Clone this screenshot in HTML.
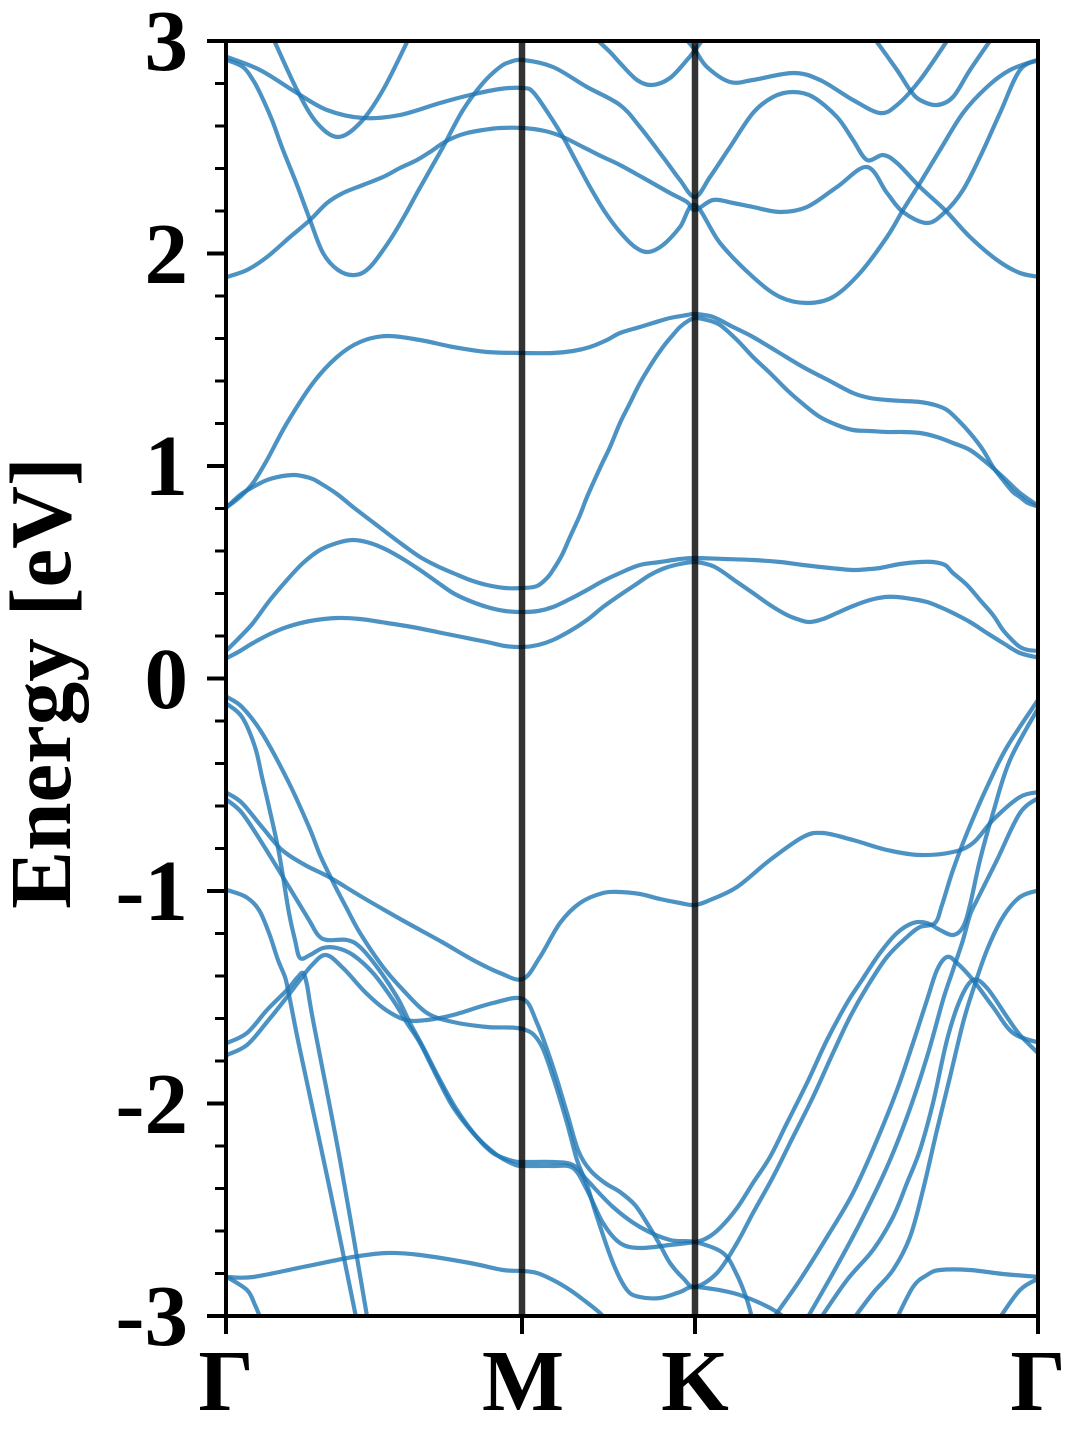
<!DOCTYPE html>
<html>
<head>
<meta charset="utf-8">
<style>
html,body{margin:0;padding:0;background:#fff;}
svg{display:block;}
text{font-family:"Liberation Serif","DejaVu Serif",serif;font-weight:bold;fill:#000;}
</style>
</head>
<body>
<svg id="chart" width="1080" height="1440" viewBox="0 0 1080 1440" xmlns="http://www.w3.org/2000/svg">
<defs>
<clipPath id="pa"><rect x="226" y="41" width="812" height="1275"/></clipPath>
</defs>
<rect width="1080" height="1440" fill="#fff"/>
<g id="bands" clip-path="url(#pa)" fill="none" stroke="#1f77b4" stroke-opacity="0.8" stroke-width="4.2" stroke-linejoin="round" stroke-linecap="round">
<polyline points="227,60 243,67 253,80 260,93 272,120 283,150 297,185 310,220 323,253 338,270 355,275 370,267 390,240 405,215 417,193 430,170 443,147 463,110 483,83 500,67 510,62 523,60 553,67 587,87 620,105 640,127 663,157 680,180 695,197 710,177 730,147 753,113 773,97 793,92 813,97 837,117 853,140 867,160 883,155 897,163 920,187 945,210 970,237 997,260 1020,273 1040,277"/>
<polyline points="227,277 247,270 267,257 290,237 310,220 327,203 343,193 363,185 383,177 400,168 417,160 430,152 443,143 455,137 467,133 483,130 500,128 523,128 545,131 563,137 583,147 603,157 620,165 647,180 670,193 687,202 695,210 713,200 733,203 753,207 780,212 807,207 837,187 867,167 887,193 903,212 927,223 945,212 963,190 980,157 1000,113 1020,70 1040,60"/>
<polyline points="227,57 260,70 297,93 327,110 363,118 400,115 440,103 470,95 500,89 523,88 533,92 548,113 563,137 577,163 590,187 605,212 620,232 635,247 648,252 663,245 680,227 695,205 720,243 753,277 780,297 807,303 833,297 860,273 887,237 903,210 920,183 940,150 963,113 987,87 1010,70 1040,59"/>
<polyline points="273,38 297,90 317,123 338,137 360,123 383,90 409,38"/>
<polyline points="595,38 610,52 620,63 637,80 652,85 670,78 687,60 695,50 704,38"/>
<polyline points="685,38 695,50 707,67 730,82 753,80 793,73 820,80 853,100 880,113 897,105 920,80 949,38"/>
<polyline points="874,38 897,70 910,90 920,100 937,105 953,97 970,70 992,38"/>
<polyline points="227,507 240,497 253,483 267,460 287,423 313,383 337,357 360,342 387,336 420,340 453,347 487,352 523,353 553,353 573,351 590,347 607,340 620,333 640,327 653,323 670,318 687,315 695,314 713,317 733,327 753,337 778,352 803,367 828,380 853,393 870,398 887,400 903,401 920,402 935,405 947,410 958,420 970,433 983,450 993,467 1003,480 1013,492 1020,497 1028,503 1040,507"/>
<polyline points="227,507 240,495 253,487 270,479 293,475 310,478 320,483 337,494 353,507 370,520 387,533 403,545 420,557 437,566 453,573 470,580 487,585 505,588 523,588 537,586 547,578 553,570 562,555 570,537 580,515 587,497 600,468 610,447 620,423 630,403 640,383 652,363 663,347 672,336 680,327 688,321 695,318 707,320 720,325 737,340 753,357 770,373 787,390 803,404 820,417 837,425 853,430 870,431 887,432 903,432 920,433 937,437 953,443 970,450 987,463 1003,477 1020,493 1040,507"/>
<polyline points="227,650 240,637 253,623 270,600 287,580 303,563 320,550 337,543 353,540 370,543 387,550 403,559 420,570 437,582 453,593 470,601 487,607 505,611 523,612 538,611 553,607 570,599 587,590 603,581 620,573 640,565 660,562 680,559 695,558 725,559 753,560 780,562 803,565 830,568 853,570 870,569 880,568 900,564 920,562 933,562 945,565 953,573 967,585 980,600 993,615 1003,630 1013,641 1020,647 1028,650 1040,651"/>
<polyline points="227,658 240,651 253,643 270,634 287,627 310,621 337,618 360,619 387,623 412,627 437,632 462,637 487,642 505,646 523,647 538,645 553,640 570,631 587,620 603,607 620,595 635,585 650,575 665,568 680,564 695,562 710,565 720,570 737,582 753,593 770,605 787,615 800,620 810,622 823,619 837,613 853,606 870,600 885,597 897,597 912,599 927,602 940,607 953,613 970,622 987,633 1003,643 1020,653 1040,658"/>
<polyline points="227,697 242,707 262,733 289,783 309,827 320,855 332,880 346,907 360,933 383,967 403,990 427,1013 453,1022 487,1027 523,1029 540,1043 553,1077 567,1123 577,1160 587,1185 597,1217 613,1263 627,1290 640,1297 660,1298 680,1292 695,1287 733,1293 760,1303 777,1312 790,1322"/>
<polyline points="227,704 242,717 255,747 262,777 269,807 279,853 289,913 295,940 300,958 310,955 323,948 337,948 353,955 373,973 393,1000 407,1023 420,1043 437,1077 453,1107 473,1133 493,1153 513,1161 523,1162 553,1162 573,1165 587,1180 613,1207 640,1227 670,1240 695,1242 723,1253 737,1275 747,1300 753,1322"/>
<polyline points="227,800 242,813 262,843 289,887 309,920 318,935 327,940 347,940 360,947 377,967 397,997 410,1023 423,1047 440,1080 457,1110 477,1137 497,1155 513,1164 523,1166 553,1166 573,1168 587,1190 603,1223 620,1243 640,1248 670,1245 695,1242 707,1238 720,1228 737,1208 753,1183 770,1157 787,1123 807,1083 827,1040 847,1003 860,983 880,953 897,933 913,923 927,923 940,930 953,935 963,927 970,905 980,860 993,813 1010,760 1040,705"/>
<polyline points="227,793 242,803 262,827 282,850 305,865 329,877 362,897 402,920 442,942 473,960 500,973 523,979 540,957 560,923 580,903 603,893 620,892 640,894 660,899 680,903 695,905 710,900 737,887 770,860 803,837 823,833 853,840 887,850 920,855 953,852 973,843 993,820 1020,797 1040,792"/>
<polyline points="227,1055 247,1045 267,1022 287,997 300,980 312,965 326,955 343,968 366,993 386,1010 406,1020 427,1020 453,1015 493,1003 523,999 537,1023 553,1067 567,1113 578,1150 590,1170 605,1183 620,1192 635,1205 647,1223 660,1245 670,1263 683,1278 695,1287 717,1273 737,1243 753,1213 773,1177 793,1137 813,1097 833,1053 850,1017 867,987 887,957 907,937 920,927 935,923 942,905 953,870 967,833 987,787 1007,747 1040,697"/>
<polyline points="227,1043 247,1033 267,1010 287,990 297,978 303,973 307,985 313,1020 340,1160 368,1322"/>
<polyline points="227,890 246,897 259,910 269,933 278,960 285,977 288,990 292,1010 300,1050 330,1190 357,1322"/>
<polyline points="227,1277 253,1277 303,1267 353,1257 387,1253 420,1255 470,1263 503,1270 523,1271 537,1273 553,1280 570,1290 585,1301 600,1313 607,1322"/>
<polyline points="227,1277 247,1290 255,1305 262,1322"/>
<polyline points="772,1322 777,1313 800,1280 827,1237 853,1193 877,1140 897,1090 913,1043 927,1000 937,970 947,957 957,963 973,980 993,1007 1013,1033 1040,1043"/>
<polyline points="805,1322 833,1273 860,1223 887,1167 907,1117 927,1057 943,1000 953,970 963,940 970,915 977,900 997,860 1020,813 1040,797"/>
<polyline points="818,1322 847,1280 873,1250 893,1217 907,1183 920,1150 933,1103 947,1040 960,1000 973,980 987,988 1007,1017 1020,1035 1040,1055"/>
<polyline points="851,1322 873,1293 893,1270 910,1237 923,1190 937,1130 950,1077 963,1023 973,990 987,950 1003,917 1020,897 1040,890"/>
<polyline points="895,1322 913,1287 927,1275 940,1270 970,1270 1003,1274 1040,1277"/>
<polyline points="997,1322 1020,1290 1040,1278"/>
</g>
<line x1="522" y1="41" x2="522" y2="1316" stroke="#000" stroke-opacity="0.8" stroke-width="6.5"/>
<line x1="695" y1="41" x2="695" y2="1316" stroke="#000" stroke-opacity="0.8" stroke-width="6.5"/>
<rect x="226" y="41" width="812" height="1275" fill="none" stroke="#000" stroke-width="4"/>
<g stroke="#000" stroke-width="4">
<line x1="207" y1="41" x2="226" y2="41"/>
<line x1="207" y1="253.5" x2="226" y2="253.5"/>
<line x1="207" y1="466" x2="226" y2="466"/>
<line x1="207" y1="678.5" x2="226" y2="678.5"/>
<line x1="207" y1="891" x2="226" y2="891"/>
<line x1="207" y1="1103.5" x2="226" y2="1103.5"/>
<line x1="207" y1="1316" x2="226" y2="1316"/>
</g>
<g stroke="#000" stroke-width="3">
<line x1="215" y1="83.5" x2="226" y2="83.5"/>
<line x1="215" y1="126" x2="226" y2="126"/>
<line x1="215" y1="168.5" x2="226" y2="168.5"/>
<line x1="215" y1="211" x2="226" y2="211"/>
<line x1="215" y1="296" x2="226" y2="296"/>
<line x1="215" y1="338.5" x2="226" y2="338.5"/>
<line x1="215" y1="381" x2="226" y2="381"/>
<line x1="215" y1="423.5" x2="226" y2="423.5"/>
<line x1="215" y1="508.5" x2="226" y2="508.5"/>
<line x1="215" y1="551" x2="226" y2="551"/>
<line x1="215" y1="593.5" x2="226" y2="593.5"/>
<line x1="215" y1="636" x2="226" y2="636"/>
<line x1="215" y1="721" x2="226" y2="721"/>
<line x1="215" y1="763.5" x2="226" y2="763.5"/>
<line x1="215" y1="806" x2="226" y2="806"/>
<line x1="215" y1="848.5" x2="226" y2="848.5"/>
<line x1="215" y1="933.5" x2="226" y2="933.5"/>
<line x1="215" y1="976" x2="226" y2="976"/>
<line x1="215" y1="1018.5" x2="226" y2="1018.5"/>
<line x1="215" y1="1061" x2="226" y2="1061"/>
<line x1="215" y1="1146" x2="226" y2="1146"/>
<line x1="215" y1="1188.5" x2="226" y2="1188.5"/>
<line x1="215" y1="1231" x2="226" y2="1231"/>
<line x1="215" y1="1273.5" x2="226" y2="1273.5"/>
</g>
<g stroke="#000" stroke-width="4">
<line x1="226" y1="1316" x2="226" y2="1334"/>
<line x1="522" y1="1316" x2="522" y2="1334"/>
<line x1="695" y1="1316" x2="695" y2="1334"/>
<line x1="1038" y1="1316" x2="1038" y2="1334"/>
</g>
<g font-size="87" text-anchor="end">
<text x="188" y="70">3</text>
<text x="188" y="283">2</text>
<text x="188" y="495">1</text>
<text x="188" y="708">0</text>
<text x="188" y="920">-1</text>
<text x="188" y="1133">-2</text>
<text x="188" y="1345">-3</text>
</g>
<g font-size="87" text-anchor="middle">
<text x="226" y="1410">Γ</text>
<text x="523" y="1410">M</text>
<text x="695" y="1410">K</text>
<text x="1038" y="1410">Γ</text>
</g>
<text font-size="87" text-anchor="middle" transform="translate(70,683) rotate(-90)">Energy [eV]</text>
</svg>
<script>
(function(){
  try{
    var NS="http://www.w3.org/2000/svg";
    var g=document.getElementById("bands");
    var pls=g.getElementsByTagName("polyline");
    var arr=[];
    for(var i=0;i<pls.length;i++)arr.push(pls[i]);
    arr.forEach(function(pl){
      var raw=pl.getAttribute("points").trim().split(/\s+/);
      var p=raw.map(function(s){var a=s.split(",");return [parseFloat(a[0]),parseFloat(a[1])];});
      if(p.length<3)return;
      var d="M"+p[0][0]+","+p[0][1];
      for(var k=0;k<p.length-1;k++){
        var p0=p[k-1]||p[k],p1=p[k],p2=p[k+1],p3=p[k+2]||p[k+1];
        var c1x=p1[0]+(p2[0]-p0[0])/6,c1y=p1[1]+(p2[1]-p0[1])/6;
        var c2x=p2[0]-(p3[0]-p1[0])/6,c2y=p2[1]-(p3[1]-p1[1])/6;
        d+=" C"+c1x.toFixed(1)+","+c1y.toFixed(1)+" "+c2x.toFixed(1)+","+c2y.toFixed(1)+" "+p2[0]+","+p2[1];
      }
      var path=document.createElementNS(NS,"path");
      path.setAttribute("d",d);
      pl.parentNode.replaceChild(path,pl);
    });
  }catch(e){}
})();
</script>
</body>
</html>
